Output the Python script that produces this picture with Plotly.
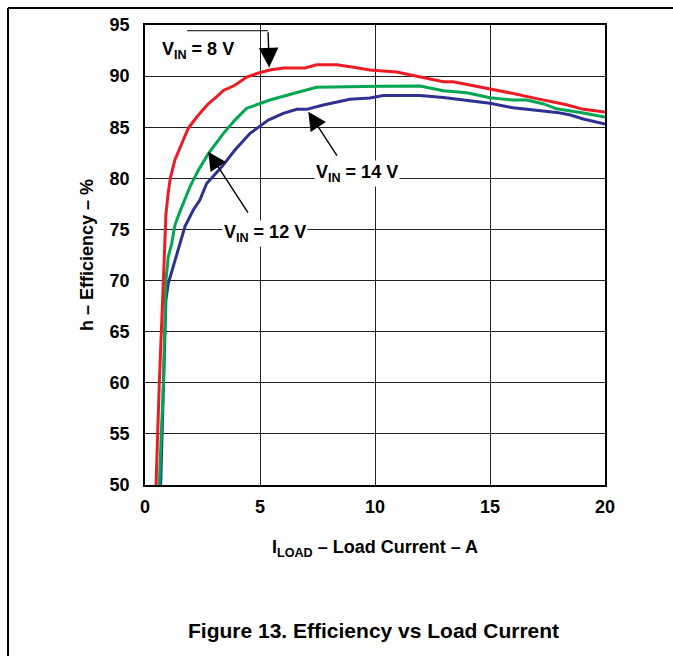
import plotly.graph_objects as go

# Efficiency (%) vs load current (A) for three input voltages
i_8v = [0.48, 0.62, 0.80, 0.87, 0.91, 1.01, 1.10, 1.30, 1.59, 1.88, 2.25, 2.71, 3.12, 3.41,
        3.91, 4.42, 4.93, 5.43, 6.01, 6.96, 7.46, 8.33, 9.0, 9.78, 10.94, 11.96, 12.97,
        13.4, 13.99, 15.0, 16.01, 17.03, 18.33, 19.06, 20.0]
eff_8v = [50, 59.9, 70.0, 74.0, 76.5, 78.6, 80.0, 81.8, 83.4, 84.9, 86.0, 87.2, 88.0, 88.6,
          89.1, 89.9, 90.3, 90.6, 90.8, 90.8, 91.1, 91.1, 90.9, 90.6, 90.4, 89.9, 89.45,
          89.45, 89.2, 88.74, 88.3, 87.8, 87.2, 86.75, 86.5]

i_12v = [0.62, 0.80, 0.91, 1.01, 1.16, 1.30, 1.49, 1.74, 1.96, 2.32, 2.75, 3.41, 3.91, 4.42,
         5.43, 6.45, 7.46, 10.2, 11.96, 12.97, 13.99, 15.0, 16.0, 16.6, 17.3, 17.9, 19.06, 20.0]
eff_12v = [50, 59.9, 70.05, 72.3, 73.6, 75.4, 76.6, 77.9, 79.2, 80.8, 82.4, 84.4, 85.7, 86.85,
           87.66, 88.3, 88.9, 89.0, 89.03, 88.57, 88.38, 87.89, 87.66, 87.66, 87.3, 86.8, 86.4, 86.0]

i_14v = [0.68, 0.80, 0.91, 1.01, 1.23, 1.45, 1.74, 2.1, 2.39, 2.68, 3.33, 3.91, 4.57, 5.36,
         6.01, 6.6, 7.03, 7.75, 8.91, 9.78, 10.36, 11.96, 12.97, 15.0, 16.0, 17.9, 18.5, 19.06, 20.0]
eff_14v = [50, 59.9, 68.1, 69.7, 71.35, 73.0, 75.3, 76.9, 77.9, 79.5, 81.1, 82.77, 84.4, 85.7,
           86.36, 86.75, 86.75, 87.17, 87.73, 87.85, 88.1, 88.1, 87.9, 87.34, 86.9, 86.45, 86.2, 85.8, 85.3]

x_ticks = [0, 5, 10, 15, 20]
y_ticks = [50, 55, 60, 65, 70, 75, 80, 85, 90, 95]

RED = "#ED1C24"
GREEN = "#00A651"
BLUE = "#2E3192"
FONT = "Arial"

fig = go.Figure()
for xs, ys, col in [(i_14v, eff_14v, BLUE), (i_12v, eff_12v, GREEN), (i_8v, eff_8v, RED)]:
    fig.add_trace(go.Scatter(x=xs, y=ys, mode="lines",
                             line=dict(color=col, width=3), showlegend=False,
                             hoverinfo="skip"))

axis_common = dict(showgrid=True, gridcolor="#222", gridwidth=1,
                   showline=True, linecolor="black", linewidth=1.5, mirror=True,
                   ticks="", zeroline=False,
                   tickfont=dict(family=FONT, size=18, color="black", weight="bold"))

fig.update_xaxes(range=[0, 20], tickvals=x_ticks, ticklabelstandoff=5, **axis_common)
fig.update_yaxes(range=[50, 95], tickvals=y_ticks, ticklabelstandoff=10, **axis_common)

lab_font = dict(family=FONT, size=18, color="black", weight="bold")

annotations = [
    # curve labels
    dict(x=2.3, y=92.5, xref="x", yref="y", text="V<sub>IN</sub> = 8 V",
         showarrow=False, font=lab_font, bgcolor="white"),
    dict(x=9.22, y=80.45, xref="x", yref="y", text="V<sub>IN</sub> = 14 V",
         showarrow=False, font=lab_font, bgcolor="white", borderpad=1),
    dict(x=5.23, y=74.65, xref="x", yref="y", text="V<sub>IN</sub> = 12 V",
         showarrow=False, font=lab_font, bgcolor="white", borderpad=1),
    # pointer arrows
    dict(x=5.4, y=90.85, ax=5.35, ay=94.44, xref="x", yref="y", axref="x", ayref="y",
         text="", showarrow=True, arrowhead=2, arrowsize=2.8, arrowwidth=1.4, arrowcolor="black"),
    dict(x=7.1, y=86.52, ax=8.39, ay=82.08, xref="x", yref="y", axref="x", ayref="y",
         text="", showarrow=True, arrowhead=2, arrowsize=2.6, arrowwidth=1.4, arrowcolor="black"),
    dict(x=2.75, y=82.6, ax=4.52, ay=76.5, xref="x", yref="y", axref="x", ayref="y",
         text="", showarrow=True, arrowhead=2, arrowsize=2.6, arrowwidth=1.4, arrowcolor="black"),
    # axis titles and caption
    dict(x=-0.126, y=0.5, xref="paper", yref="paper", text="h – Efficiency – %",
         textangle=-90, showarrow=False, font=lab_font, xanchor="center", yanchor="middle"),
    dict(x=0.5, y=-0.137, xref="paper", yref="paper", text="I<sub>LOAD</sub> – Load Current – A",
         showarrow=False, font=lab_font, xanchor="center", yanchor="middle"),
    dict(x=0.496, y=-0.317, xref="paper", yref="paper", text="Figure 13. Efficiency vs Load Current",
         showarrow=False, font=dict(family=FONT, size=21, color="black", weight="bold"),
         xanchor="center", yanchor="middle"),
]

shapes = [
    # leader line for the 8 V label
    dict(type="line", xref="x", yref="y", x0=1.83, y0=94.44, x1=5.35, y1=94.44,
         line=dict(color="black", width=1)),
    # page frame
    dict(type="line", xref="paper", yref="paper", x0=-0.2978, y0=1.037, x1=1.2, y1=1.037,
         line=dict(color="black", width=2)),
    dict(type="line", xref="paper", yref="paper", x0=-0.2978, y0=1.037, x1=-0.2978, y1=-0.4,
         line=dict(color="black", width=2)),
]

fig.update_layout(
    width=673, height=656,
    margin=dict(l=145, r=68, t=25, b=171),
    paper_bgcolor="white", plot_bgcolor="white",
    annotations=annotations, shapes=shapes,
    showlegend=False,
)

fig.write_html("out.html")
